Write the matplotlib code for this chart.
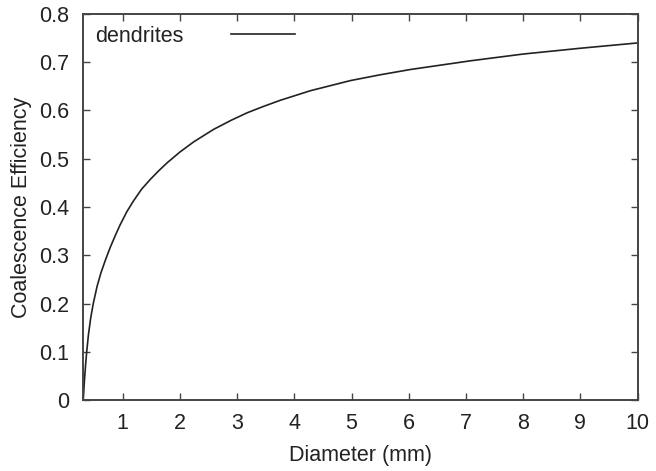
import numpy as np
import matplotlib.pyplot as plt

plt.rcParams['font.family'] = ['Liberation Sans', 'DejaVu Sans']

# coalescence efficiency of dendrites vs. particle diameter
diameter = np.array([0.31, 0.33, 0.35, 0.37, 0.40, 0.44, 0.485, 0.55, 0.62,
                     0.70, 0.78, 0.87, 0.95, 1.07, 1.19, 1.33, 1.48, 1.62,
                     1.77, 2.0, 2.24, 2.59, 2.9, 3.17, 3.45, 3.75, 4.28, 4.98,
                     5.5, 6.03, 7.08, 8.0, 9.0, 10.0])
efficiency = np.array([0.0, 0.04, 0.072, 0.1, 0.135, 0.17, 0.2, 0.235, 0.264,
                       0.291, 0.316, 0.341, 0.362, 0.39, 0.413, 0.437, 0.457,
                       0.474, 0.491, 0.514, 0.535, 0.561, 0.580, 0.595, 0.608,
                       0.621, 0.641, 0.662, 0.674, 0.685, 0.703, 0.717, 0.729,
                       0.740])

xticks = list(range(1, 11))
yticks = [0, 0.1, 0.2, 0.3, 0.4, 0.5, 0.6, 0.7, 0.8]
ytick_labels = ['0', '0.1', '0.2', '0.3', '0.4', '0.5', '0.6', '0.7', '0.8']

fs = 15.5

fig = plt.figure(figsize=(6.56, 4.71), dpi=100)
ax = fig.add_axes([0.1265, 0.1507, 0.8455, 0.8196])

ax.plot(diameter, efficiency, color='#222222', lw=1.2, label='dendrites')

ax.set_xlim(0.305, 10)
ax.set_ylim(0, 0.8)
ax.set_xticks(xticks)
ax.set_yticks(yticks)
ax.set_yticklabels(ytick_labels)

ax.tick_params(direction='in', length=5, width=1, color='#444444',
               top=True, right=True, labelsize=fs, labelcolor='#222222')
ax.tick_params(axis='x', pad=9)
ax.tick_params(axis='y', pad=10)
for s in ax.spines.values():
    s.set_linewidth(1.4)
    s.set_color('#444444')

ax.set_xlabel('Diameter (mm)', fontsize=fs, color='#222222', labelpad=8)
ax.set_ylabel('Coalescence Efficiency', fontsize=fs, color='#222222', labelpad=5)

ax.legend(loc='upper left', frameon=False, markerfirst=False, fontsize=fs,
          handlelength=3.0, handletextpad=2.2, borderaxespad=0.15,
          labelcolor='#222222')

fig.savefig('out.png', dpi=100)
